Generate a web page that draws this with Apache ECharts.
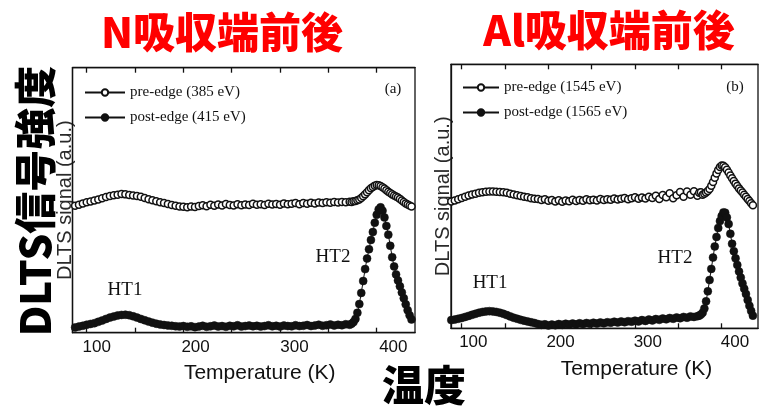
<!DOCTYPE html>
<html>
<head>
<meta charset="utf-8">
<script src="https://cdn.jsdelivr.net/npm/echarts@6/dist/echarts.min.js"></script>
<style>
  html, body { margin: 0; padding: 0; background: #fff; }
  #chart { width: 763px; height: 416px; }
</style>
</head>
<body>
<div id="chart"></div>
<script>
// Sample temperatures (K) shared by both spectra; finer steps across the HT2 peak
const temperatureK = [
  88, 92, 96, 100, 104, 108, 112, 116, 120, 124,
  128, 132, 136, 140, 144, 148, 152, 156, 160, 164,
  168, 172, 176, 180, 184, 188, 192, 196, 200, 204,
  208, 212, 216, 220, 224, 228, 232, 236, 240, 244,
  248, 252, 256, 260, 264, 268, 272, 276, 280, 284,
  288, 292, 296, 300, 304, 308, 312, 316, 320, 324,
  328, 332, 336, 340, 344, 348, 352, 356, 360, 364,
  368, 372, 374, 376, 378, 380, 382, 384, 386, 388,
  390, 392, 394, 396, 398, 400, 402, 404, 406, 408,
  410, 412, 414, 416, 418, 420, 422, 424, 426, 428,
  430, 432, 434, 436
];

// (a) N K-edge: DLTS signal (a.u.)
const nPreEdge = [
  47.9, 48.3, 48.8, 49.2, 49.5, 49.9, 50.3, 50.7, 51.2, 51.6,
  51.9, 52.1, 52.3, 52.2, 52.0, 51.8, 51.6, 51.3, 50.8, 50.4,
  50.0, 49.6, 49.2, 48.9, 48.6, 48.2, 47.9, 47.6, 47.5, 47.3,
  47.6, 47.4, 47.8, 48.1, 47.7, 48.3, 47.9, 48.4, 48.0, 48.6,
  48.2, 48.0, 48.5, 48.1, 48.4, 48.2, 48.7, 48.3, 48.5, 48.2,
  48.7, 48.4, 48.6, 48.3, 48.8, 48.5, 48.7, 48.9, 48.5, 48.9,
  48.7, 49.0, 48.8, 49.1, 48.9, 49.2, 49.0, 49.3, 49.1, 49.3,
  49.2, 49.4, 49.3, 49.6, 49.7, 50.0, 50.3, 50.8, 51.5, 52.2,
  53.0, 53.8, 54.5, 55.0, 55.5, 55.7, 55.6, 55.4, 54.9, 54.4,
  53.8, 53.2, 52.7, 52.2, 51.8, 51.4, 51.0, 50.5, 49.9, 49.3,
  48.8, 48.4, 48.0, 47.6
];
const nPostEdge = [
  2.0, 2.3, 2.6, 3.0, 3.3, 3.6, 4.1, 4.6, 5.2, 5.7,
  6.1, 6.5, 6.7, 6.8, 6.6, 6.2, 5.7, 5.2, 4.7, 4.2,
  3.8, 3.4, 3.1, 2.9, 2.7, 2.6, 2.4, 2.3, 2.5, 2.2,
  2.4, 2.1, 2.3, 2.6, 2.2, 2.4, 2.7, 2.3, 2.5, 2.2,
  2.6, 2.4, 2.8, 2.3, 2.5, 2.7, 2.4, 2.6, 2.3, 2.5,
  2.8, 2.4, 2.6, 2.3, 2.7, 2.5, 2.4, 2.8, 2.5, 2.6,
  2.9, 2.5, 2.7, 3.0, 2.6, 2.8, 3.1, 2.7, 3.0, 2.8,
  3.2, 3.0, 3.4, 4.0, 5.2, 7.5, 10.8, 15.0, 19.5, 24.0,
  28.0, 31.5, 35.0, 38.0, 41.5, 44.5, 46.5, 47.3, 46.0, 43.5,
  40.3, 37.0, 32.8, 28.5, 25.0, 22.0, 19.7, 17.5, 15.2, 13.0,
  10.7, 8.5, 6.6, 5.0
];

// (b) Al K-edge: DLTS signal (a.u.)
const alPreEdge = [
  48.0, 48.4, 48.9, 49.4, 49.8, 50.3, 50.7, 51.0, 51.3, 51.5,
  51.7, 51.8, 51.8, 51.7, 51.6, 51.5, 51.3, 51.0, 50.7, 50.4,
  50.1, 49.8, 49.6, 49.3, 49.1, 49.0, 48.6, 48.9, 48.3, 48.6,
  48.0, 48.5, 47.9, 48.4, 48.1, 48.7, 48.2, 48.6, 48.3, 48.9,
  48.5, 48.7, 48.4, 49.0, 48.6, 48.9, 48.7, 49.2, 48.8, 49.1,
  49.4, 48.9, 49.3, 49.6, 49.1, 49.5, 49.2, 49.8, 49.4, 50.2,
  49.0, 50.5, 49.6, 51.2, 49.3, 50.4, 51.6, 49.8, 51.8, 50.6,
  51.9, 50.2, 51.3, 51.5, 50.6, 51.0, 51.4, 52.0, 52.8, 54.0,
  55.4, 57.0, 58.6, 60.0, 61.1, 61.7, 61.6, 61.0, 60.1, 59.0,
  57.9, 56.8, 55.8, 54.8, 53.9, 53.0, 52.2, 51.4, 50.6, 49.8,
  49.0, 48.2, 47.4, 46.6
];
const alPostEdge = [
  3.1, 3.3, 3.6, 3.9, 4.3, 4.7, 5.1, 5.5, 5.9, 6.2,
  6.4, 6.5, 6.4, 6.2, 5.9, 5.5, 5.0, 4.5, 4.0, 3.6,
  3.2, 2.9, 2.6, 2.3, 2.0, 1.6, 1.3, 1.5, 1.1, 1.4,
  1.2, 1.6, 1.3, 1.7, 1.4, 1.8, 1.5, 1.9, 1.6, 2.0,
  1.7, 2.1, 1.8, 2.2, 1.9, 2.3, 2.1, 2.5, 2.2, 2.6,
  2.3, 2.7, 2.5, 2.9, 2.6, 3.1, 2.8, 3.3, 3.0, 3.5,
  3.2, 3.7, 3.4, 3.9, 3.6, 4.1, 3.8, 4.3, 4.0, 4.5,
  4.3, 4.6, 4.8, 5.2, 5.9, 7.5, 10.2, 14.0, 18.3, 22.5,
  26.8, 31.0, 34.6, 38.0, 40.6, 42.5, 43.9, 43.8, 42.0, 39.5,
  35.8, 32.0, 29.2, 26.5, 24.0, 21.5, 19.2, 17.0, 15.0, 13.0,
  10.7, 8.5, 6.6, 4.8
];

// Axis ticks and labels
const tickTemps = [100, 150, 200, 250, 300, 350, 400];
const labelTemps = [100, 200, 300, 400];

// Legend entries
const namesN = ['pre-edge (385 eV)', 'post-edge (415 eV)'];
const namesAl = ['pre-edge (1545 eV)', 'post-edge (1565 eV)'];

// Peak names
const peakNames = ['HT1', 'HT2'];

const pairs = (vals) => temperatureK.map((t, i) => [t, vals[i]]);

const INK = '#111';
const SERIF = '"Liberation Serif", "DejaVu Serif", serif';
const SANS = '"Liberation Sans", Arial, sans-serif';
const CJK = '"Noto Sans CJK JP", "Noto Sans CJK SC", sans-serif';

function preSeries(name, vals, axisIdx) {
  return {
    type: 'line', name, data: pairs(vals),
    xAxisIndex: axisIdx.x, yAxisIndex: axisIdx.y,
    symbol: 'circle', symbolSize: 7, showAllSymbol: true,
    itemStyle: { color: '#fff', borderColor: INK, borderWidth: 1.5 },
    lineStyle: { color: INK, width: 1 },
    emphasis: { disabled: true }, z: 3
  };
}
function postSeries(name, vals, axisIdx, peaks) {
  return {
    type: 'line', name, data: pairs(vals),
    xAxisIndex: axisIdx.x, yAxisIndex: axisIdx.y,
    symbol: 'circle', symbolSize: 8, showAllSymbol: true,
    itemStyle: { color: INK, borderColor: INK, borderWidth: 0.5 },
    lineStyle: { color: INK, width: 1 },
    emphasis: { disabled: true }, z: 4,
    markPoint: {
      symbol: 'circle', symbolSize: 1, silent: true,
      itemStyle: { color: 'rgba(0,0,0,0)' },
      label: { show: true, position: 'inside', color: INK, fontFamily: SERIF, fontSize: 19,
               formatter: (p) => p.name },
      data: peaks.map((c, i) => ({ name: peakNames[i], coord: c }))
    }
  };
}

// Temperature axes: tick axis (data scale), top tick axis, and labelled axis
function tempAxes(gridIndex, scale, labelScale, nameShift) {
  const tickAxis = (position) => ({
    type: 'value', gridIndex, position, min: scale[0], max: scale[1],
    axisLine: { show: true, onZero: false, lineStyle: { color: INK, width: 1.3 } },
    axisTick: { show: true, inside: true, length: 5, customValues: tickTemps,
                lineStyle: { color: INK, width: 1.3 } },
    axisLabel: { show: false }, splitLine: { show: false }
  });
  return [
    tickAxis('bottom'),
    tickAxis('top'),
    {
      type: 'value', gridIndex, position: 'bottom', min: labelScale[0], max: labelScale[1],
      axisLine: { show: false }, axisTick: { show: false }, splitLine: { show: false },
      axisLabel: { show: true, customValues: labelTemps, margin: 6,
                   fontFamily: SANS, fontSize: 17, color: INK },
      name: 'Temperature (K)', nameLocation: 'middle', nameGap: 30,
      nameTextStyle: { fontFamily: SANS, fontSize: 21, color: INK,
                       padding: [0, 0, 0, nameShift] }
    }
  ];
}

function signalAxis(gridIndex, gap) {
  return {
    type: 'value', gridIndex, min: 0, max: 100,
    axisLine: { show: true, lineStyle: { color: INK, width: 1.3 } },
    axisTick: { show: false }, axisLabel: { show: false }, splitLine: { show: false },
    name: 'DLTS signal (a.u.)', nameLocation: 'middle', nameGap: gap,
    nameTextStyle: { fontFamily: SANS, fontSize: 20, color: '#2a2a2a' }
  };
}

const chart = echarts.init(document.getElementById('chart'), null, { renderer: 'canvas' });

chart.setOption({
  animation: false,
  backgroundColor: '#fff',
  grid: [
    { left: 72.5, top: 67.7, width: 342.5, height: 265, show: true,
      borderColor: INK, borderWidth: 1.3, containLabel: false },
    { left: 451, top: 64.3, width: 307, height: 264, show: true,
      borderColor: INK, borderWidth: 1.3, containLabel: false }
  ],
  xAxis: [
    ...tempAxes(0, [85.3, 439.6], [75.5, 421.9], 32),
    ...tempAxes(1, [87.65, 441.9], [74.4, 426.3], 64)
  ],
  yAxis: [signalAxis(0, -3), signalAxis(1, -2)],
  legend: [
    { orient: 'vertical', left: 79, top: 80, itemWidth: 40, itemHeight: 8, itemGap: 10,
      selectedMode: false, data: namesN,
      textStyle: { fontFamily: SERIF, fontSize: 15, color: INK } },
    { orient: 'vertical', left: 457, top: 75, itemWidth: 36, itemHeight: 8, itemGap: 10,
      selectedMode: false, data: namesAl,
      textStyle: { fontFamily: SERIF, fontSize: 15, color: INK } }
  ],
  series: [
    preSeries(namesN[0], nPreEdge, { x: 0, y: 0 }),
    postSeries(namesN[1], nPostEdge, { x: 0, y: 0 }, [[139.6, 16.1], [354.8, 28.6]]),
    preSeries(namesAl[0], alPreEdge, { x: 3, y: 1 }),
    postSeries(namesAl[1], alPostEdge, { x: 3, y: 1 }, [[132.7, 17.2], [346.1, 26.6]])
  ],
  graphic: [
    { type: 'text', x: 222, y: 32, silent: true,
      style: { text: 'N吸収端前後', fontFamily: CJK, fontWeight: 900, fontSize: 42,
               fill: '#ff0000', align: 'center', verticalAlign: 'middle' } },
    { type: 'text', x: 609, y: 30, silent: true,
      style: { text: 'Al吸収端前後', fontFamily: CJK, fontWeight: 900, fontSize: 42,
               fill: '#ff0000', align: 'center', verticalAlign: 'middle' } },
    { type: 'text', x: 35, y: 201, rotation: Math.PI / 2, silent: true,
      style: { text: 'DLTS信号強度', fontFamily: CJK, fontWeight: 900, fontSize: 42,
               fill: '#000', align: 'center', verticalAlign: 'middle' } },
    { type: 'text', x: 424, y: 385, silent: true,
      style: { text: '温度', fontFamily: CJK, fontWeight: 900, fontSize: 42,
               fill: '#000', align: 'center', verticalAlign: 'middle' } },
    { type: 'text', x: 393, y: 89, silent: true,
      style: { text: '(a)', fontFamily: SERIF, fontSize: 15, fill: INK,
               align: 'center', verticalAlign: 'middle' } },
    { type: 'text', x: 735, y: 87, silent: true,
      style: { text: '(b)', fontFamily: SERIF, fontSize: 15, fill: INK,
               align: 'center', verticalAlign: 'middle' } }
  ]
});
</script>
</body>
</html>
